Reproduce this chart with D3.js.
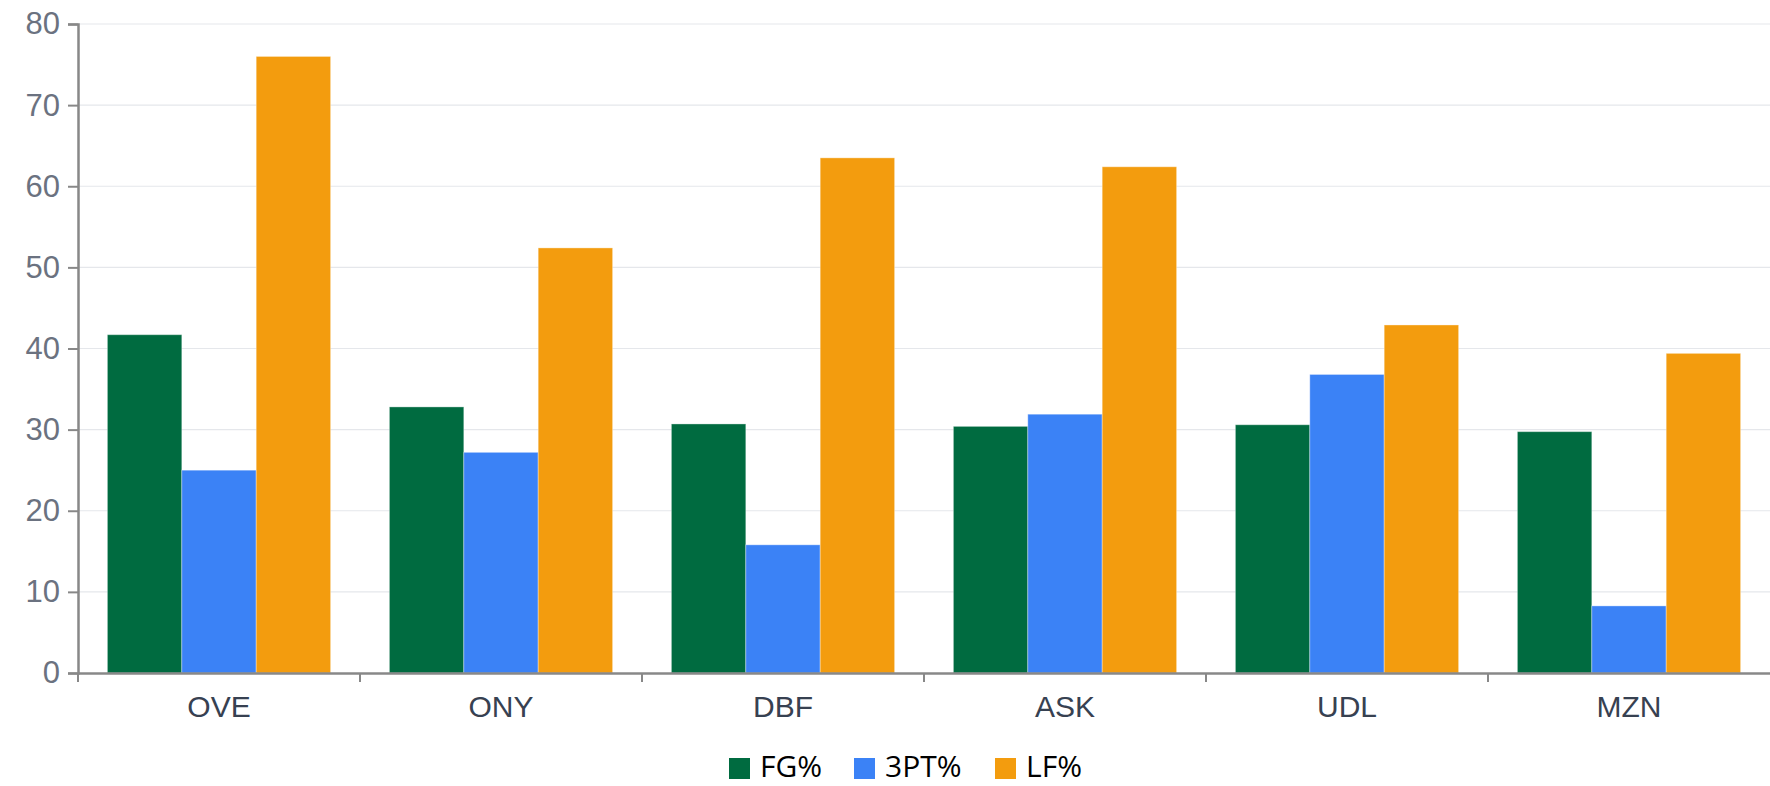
<!DOCTYPE html>
<html>
<head>
<meta charset="utf-8">
<script src="https://cdn.jsdelivr.net/npm/d3@7"></script>
<style>
  body { margin: 0; background: #fff; }
  svg { display: block; }
  .yAxis text { fill: #6b7280; font-family: "Liberation Sans", Arial, sans-serif; font-size: 31px; }
  .xAxis text { fill: #374151; font-family: "Liberation Sans", Arial, sans-serif; font-size: 30px; }
  .legend text { fill: #000; font-family: "Open Sans", "Liberation Sans", sans-serif; font-size: 30px; }
</style>
</head>
<body>
<div id="chart"></div>
<script>
var teams = ["OVE", "ONY", "DBF", "ASK", "UDL", "MZN"];
var seriesNames = ["FG%", "3PT%", "LF%"];
var fgValues  = [41.7, 32.8, 30.7, 30.4, 30.6, 29.75];
var tptValues = [25.0, 27.2, 15.8, 31.9, 36.8, 8.27];
var lfValues  = [76.0, 52.4, 63.5, 62.4, 42.9, 39.4];
var yTicks = [0, 10, 20, 30, 40, 50, 60, 70, 80];
var colors = ["#006b40", "#3b82f6", "#f39c0e"];

var totalWidth = 1770, totalHeight = 786;
var margin = {top: 24, right: 0, bottom: 113, left: 78};
var width = totalWidth - margin.left - margin.right;
var height = totalHeight - margin.top - margin.bottom;

var svg = d3.select("#chart").append("svg")
    .attr("width", totalWidth)
    .attr("height", totalHeight);

var canvas = svg.append("g")
    .attr("transform", "translate(" + margin.left + "," + margin.top + ")");

var data = teams.map(function(t, i) {
    return {team: t, values: [fgValues[i], tptValues[i], lfValues[i]]};
});

var x0 = d3.scaleBand().domain(teams).range([0, width]).padding(0);
var x1 = d3.scaleBand().domain(seriesNames).range([0, x0.bandwidth()])
    .paddingInner(0).paddingOuter(0.395);
var yScale = d3.scaleLinear().domain([0, 80]).range([height, 0]);
var zScale = d3.scaleOrdinal().domain(seriesNames).range(colors);

// grid
canvas.append("g")
    .attr("class", "grid")
    .selectAll("line")
    .data(yTicks.slice(1))
    .enter().append("line")
    .attr("x1", 0).attr("x2", width)
    .attr("y1", function(d) { return yScale(d); })
    .attr("y2", function(d) { return yScale(d); })
    .attr("stroke", "#e5e7eb")
    .attr("stroke-width", 1.2);

// bars
var groups = canvas.append("g").selectAll(".team")
    .data(data)
    .enter().append("g")
    .attr("class", "team")
    .attr("transform", function(d) { return "translate(" + x0(d.team) + ",0)"; });

groups.selectAll("rect")
    .data(function(d) { return d.values.map(function(v, i) { return {key: seriesNames[i], value: v}; }); })
    .enter().append("rect")
    .attr("x", function(d) { return x1(d.key); })
    .attr("width", x1.bandwidth())
    .attr("y", function(d) { return yScale(d.value); })
    .attr("height", function(d) { return height - yScale(d.value); })
    .attr("fill", function(d) { return zScale(d.key); })
    .attr("stroke", "#ffffff")
    .attr("stroke-opacity", 0.35)
    .attr("stroke-width", 1);

// y axis
var yAxis = d3.axisLeft(yScale).tickValues(yTicks).tickSize(10).tickPadding(8);
var yAxisGroup = canvas.append("g").attr("class", "yAxis").call(yAxis);
yAxisGroup.select(".domain").attr("stroke", "#888").attr("stroke-width", 2.5);
yAxisGroup.selectAll(".tick line").attr("stroke", "#888").attr("stroke-width", 2);

// x axis
var xAxis = d3.axisBottom(x0).tickSize(0).tickPadding(23);
var xAxisGroup = canvas.append("g")
    .attr("class", "xAxis")
    .attr("transform", "translate(0," + height + ")")
    .call(xAxis);
xAxisGroup.select(".domain").attr("stroke", "#888").attr("stroke-width", 2.5);

xAxisGroup.selectAll(".bandTick")
    .data(teams)
    .enter().append("line")
    .attr("class", "bandTick")
    .attr("x1", function(d) { return x0(d); })
    .attr("x2", function(d) { return x0(d); })
    .attr("y1", 0).attr("y2", 9)
    .attr("stroke", "#888")
    .attr("stroke-width", 2);

// legend
var legendX = [729, 854, 995];
var legend = svg.append("g").attr("class", "legend")
    .selectAll("g")
    .data(seriesNames)
    .enter().append("g")
    .attr("transform", function(d, i) { return "translate(" + legendX[i] + ",758)"; });

legend.append("rect")
    .attr("width", 21).attr("height", 21)
    .attr("fill", function(d) { return zScale(d); });

legend.append("text")
    .attr("x", 31)
    .attr("y", 8)
    .attr("dy", "0.36em")
    .text(function(d) { return d; });
</script>
</body>
</html>
